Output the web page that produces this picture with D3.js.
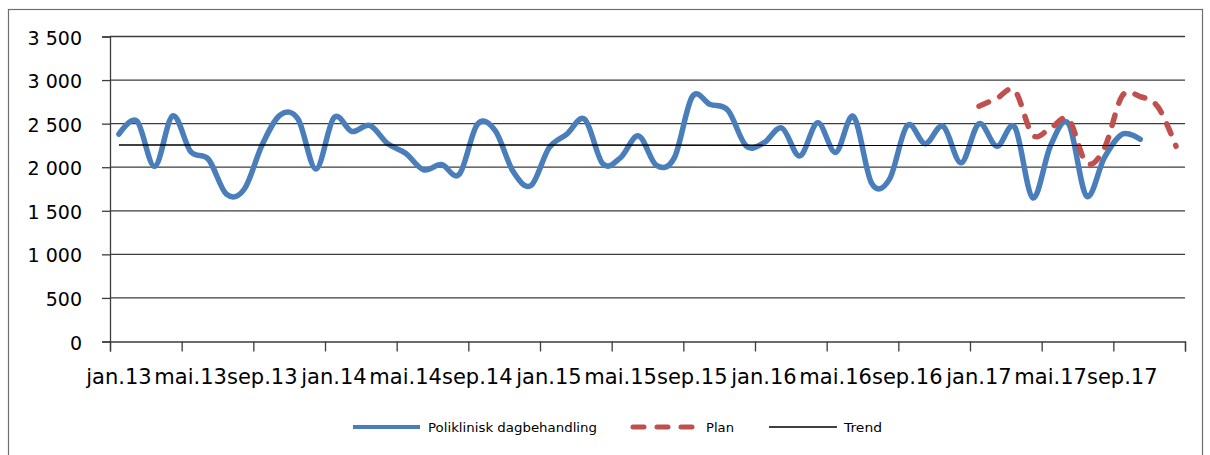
<!DOCTYPE html>
<html>
<head>
<meta charset="utf-8">
<script src="https://cdn.jsdelivr.net/npm/d3@7"></script>
<style>
  html, body { margin: 0; padding: 0; background: #fff; }
  svg { display: block; }
  text { font-family: "DejaVu Sans", sans-serif; fill: #000; }
</style>
</head>
<body>
<svg id="chart" width="1210" height="455"></svg>
<script>
// Month names and years that make up the category axis
const monthNames = ["jan", "feb", "mar", "apr", "mai", "jun", "jul", "aug", "sep", "okt", "nov", "des"];
const years = ["13", "14", "15", "16", "17"];
const categories = years.flatMap(yr => monthNames.map(m => m + "." + yr));

// Only every fourth month gets a label
const tickLabels = ["jan.13", "mai.13", "sep.13", "jan.14", "mai.14", "sep.14", "jan.15", "mai.15",
                    "sep.15", "jan.16", "mai.16", "sep.16", "jan.17", "mai.17", "sep.17"];
const yTicks = [0, 500, 1000, 1500, 2000, 2500, 3000, 3500];

// Poliklinisk dagbehandling, jan.13 – okt.17
const actualValues = [
  2380, 2530, 2010, 2590, 2180, 2090, 1690, 1750, 2260, 2600, 2550, 1980,
  2570, 2410, 2480, 2270, 2160, 1970, 2030, 1920, 2490, 2420, 1950, 1790,
  2220, 2380, 2550, 2040, 2110, 2360, 2020, 2110, 2810, 2720, 2650, 2245,
  2280, 2450, 2130, 2510, 2170, 2580, 1820, 1860, 2480, 2270, 2470, 2050,
  2500, 2240, 2460, 1650, 2250, 2500, 1670, 2110, 2380, 2320
];

// Plan, jan.17 – des.17
const planStart = "jan.17";
const planValues = [2700, 2790, 2880, 2370, 2450, 2550, 2050, 2220, 2820, 2810, 2690, 2240];

// Trend line across the actual series (first and last point)
const trendValues = [2255, 2252];

const svg = d3.select("#chart");

// Outer chart frame
svg.append("rect")
  .attr("x", 8.5).attr("y", 9.5)
  .attr("width", 1194).attr("height", 470)
  .attr("fill", "#fff")
  .attr("stroke", "#6e6e6e")
  .attr("stroke-width", 1.2);

const x = d3.scaleBand().domain(categories).range([110, 1185]).padding(0);
const xCenter = c => x(c) + x.bandwidth() / 2;
const xEdge = d3.scaleLinear().domain([0, categories.length]).range([110, 1185]);
const y = d3.scaleLinear().domain([0, 3500]).range([341.5, 36.5]);

const gridColor = "#3c3c3c";

// Horizontal gridlines
svg.append("g")
  .selectAll("line")
  .data(yTicks.filter(v => v > 0))
  .join("line")
  .attr("x1", 110).attr("x2", 1185)
  .attr("y1", d => y(d)).attr("y2", d => y(d))
  .attr("stroke", gridColor)
  .attr("stroke-width", 1.3);

// Y axis with space-grouped thousands
const nb = d3.formatLocale({ decimal: ",", thousands: " ", grouping: [3], currency: ["", " kr"] });
const yFmt = nb.format(",");
const yAxis = svg.append("g")
  .attr("transform", "translate(110,0)")
  .call(d3.axisLeft(y).tickValues(yTicks).tickSize(8).tickPadding(20).tickFormat(yFmt));
yAxis.select(".domain").attr("stroke", gridColor).attr("stroke-width", 1.3);
yAxis.selectAll(".tick line").attr("stroke", gridColor).attr("stroke-width", 1.3);
yAxis.selectAll(".tick text")
  .attr("font-family", "DejaVu Sans")
  .attr("font-size", 19)
  .attr("dy", "0.4em");

// X axis: tick marks on category boundaries, every fourth month
const edgeTicks = d3.range(0, categories.length + 1, 4);
const xAxis = svg.append("g")
  .attr("transform", `translate(0,${y(0)})`)
  .call(d3.axisBottom(xEdge).tickValues(edgeTicks).tickSize(10).tickFormat(""));
xAxis.select(".domain").attr("stroke", gridColor).attr("stroke-width", 1.3);
xAxis.selectAll(".tick line").attr("stroke", gridColor).attr("stroke-width", 1.3);

// X labels centred on their month
const xLabels = svg.append("g")
  .attr("transform", `translate(0,${y(0)})`)
  .call(d3.axisBottom(x).tickValues(tickLabels).tickSize(0).tickPadding(0));
xLabels.select(".domain").remove();
xLabels.selectAll(".tick text")
  .attr("font-family", "DejaVu Sans")
  .attr("font-size", 21)
  .attr("y", 42.5)
  .attr("dy", 0);

// Smoothed lines
const line = d3.line()
  .x(d => xCenter(d.cat))
  .y(d => y(d.value))
  .curve(d3.curveCatmullRom.alpha(0));

const actual = actualValues.map((v, i) => ({ cat: categories[i], value: v }));
const p0 = categories.indexOf(planStart);
const plan = planValues.map((v, i) => ({ cat: categories[p0 + i], value: v }));
const trend = [
  { cat: categories[0], value: trendValues[0] },
  { cat: categories[actualValues.length - 1], value: trendValues[1] }
];

svg.append("path")
  .datum(actual)
  .attr("d", line)
  .attr("fill", "none")
  .attr("stroke", "#4a7ebb")
  .attr("stroke-width", 5.5)
  .attr("stroke-linejoin", "round")
  .attr("stroke-linecap", "round");

svg.append("path")
  .datum(plan)
  .attr("d", line)
  .attr("fill", "none")
  .attr("stroke", "#c0504d")
  .attr("stroke-width", 5.5)
  .attr("stroke-dasharray", "10.5,12.5")
  .attr("stroke-linecap", "round");

svg.append("path")
  .datum(trend)
  .attr("d", d3.line().x(d => xCenter(d.cat)).y(d => y(d.value)))
  .attr("fill", "none")
  .attr("stroke", "#000")
  .attr("stroke-width", 1.5);

// Legend
const legendY = 427;
const legendItems = [
  { label: "Poliklinisk dagbehandling", x1: 353, x2: 420, tx: 428, tw: 169, color: "#4a7ebb", w: 4, dash: null },
  { label: "Plan", x1: 633, x2: 692, tx: 706, tw: 28, color: "#c0504d", w: 5, dash: "11,13" },
  { label: "Trend", x1: 769, x2: 837, tx: 844, tw: 38, color: "#000", w: 1.3, dash: null }
];
const lg = svg.append("g");
legendItems.forEach(it => {
  lg.append("line")
    .attr("x1", it.x1).attr("x2", it.x2)
    .attr("y1", legendY).attr("y2", legendY)
    .attr("stroke", it.color)
    .attr("stroke-width", it.w)
    .attr("stroke-linecap", it.dash ? "round" : "butt")
    .attr("stroke-dasharray", it.dash);
  lg.append("text")
    .attr("x", it.tx).attr("y", legendY + 5)
    .attr("font-size", 12.5)
    .attr("textLength", it.tw)
    .attr("lengthAdjust", "spacingAndGlyphs")
    .text(it.label);
});
</script>
</body>
</html>
